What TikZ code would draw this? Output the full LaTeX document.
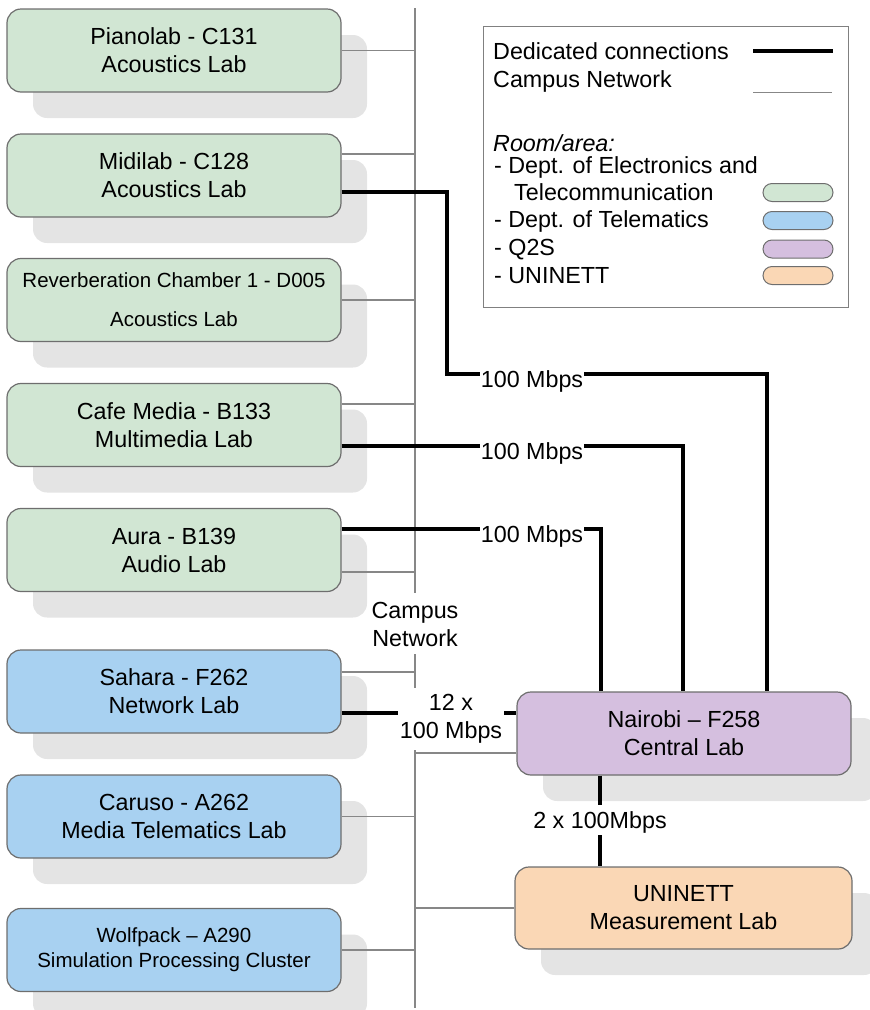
\documentclass[tikz,border=0pt]{standalone}
\usepackage{fontspec}
\setmainfont{Liberation Sans}
\usetikzlibrary{shadows}
\definecolor{eltel}{HTML}{D1E6D3}
\definecolor{telem}{HTML}{A8D1F1}
\definecolor{qtwos}{HTML}{D5BFDF}
\definecolor{uninettc}{HTML}{FAD7B5}
\definecolor{shadowgray}{HTML}{E4E4E4}
\definecolor{boxline}{HTML}{6E6E6E}
\definecolor{campus}{HTML}{878787}
\definecolor{legframe}{HTML}{808080}
\begin{document}
\begin{tikzpicture}[x=1pt,y=-1pt,
  labbox/.style={draw=boxline, line width=1.2pt, rounded corners=14pt,
    minimum width=334pt, minimum height=83pt, align=center, inner sep=0pt,
    font=\fontsize{23.3}{28}\selectfont,
    general shadow={fill=shadowgray, shadow xshift=26pt, shadow yshift=-26pt}},
  eltelbox/.style={labbox, fill=eltel},
  telembox/.style={labbox, fill=telem},
  qbox/.style={labbox, fill=qtwos},
  ubox/.style={labbox, fill=uninettc},
  campusline/.style={draw=campus, line width=1.5pt},
  dedicated/.style={draw=black, line width=3.2pt},
  rate/.style={font=\fontsize{23.3}{28}\selectfont, inner sep=1pt, align=center},
  legtext/.style={font=\fontsize{23.3}{28}\selectfont, inner sep=0pt, anchor=base west},
  pill/.style={draw=boxline, line width=1pt, minimum width=70pt, minimum height=18pt,
    rounded corners=9pt, inner sep=0pt},
]
\useasboundingbox (0,0) rectangle (870,1010);

% lab boxes
\node[eltelbox] (pianolab) at (174,50.5) {Pianolab - C131\\Acoustics Lab};
\node[eltelbox] (midilab) at (174,175.5) {Midilab - C128\\Acoustics Lab};
\node[eltelbox, font=\fontsize{20.5}{39}\selectfont] (reverb) at (174,300) {Reverberation Chamber 1 - D005\\Acoustics Lab};
\node[eltelbox] (cafe) at (174,425) {Cafe Media - B133\\Multimedia Lab};
\node[eltelbox] (aura) at (174,550) {Aura - B139\\Audio Lab};
\node[telembox] (sahara) at (174,691.5) {Sahara - F262\\Network Lab};
\node[telembox] (caruso) at (174,816.5) {Caruso - A262\\Media Telematics Lab};
\node[telembox, font=\fontsize{20.5}{25}\selectfont] (wolfpack) at (174,950) {Wolfpack – A290\\Simulation Processing Cluster};
\node[qbox] (nairobi) at (684,733.5) {Nairobi – F258\\Central Lab};
\node[ubox, minimum width=337pt, minimum height=82pt] (uninett) at (683.5,908) {UNINETT\\Measurement Lab};

% campus network bus
\coordinate (bustop) at (415,8);
\coordinate (busA) at (415,593);
\coordinate (busB) at (415,654);
\coordinate (busC) at (415,688);
\coordinate (busD) at (415,750);
\coordinate (busbot) at (415,1008);
\node[rate] (campuslbl) at (415,624) {Campus\\Network};
\draw[campusline] (bustop) -- (busA);
\draw[campusline] (busB) -- (busC);
\draw[campusline] (busD) -- (busbot);

\draw[campusline] (pianolab.east) -- (pianolab.east -| bustop);
\draw[campusline] ([yshift=21.5pt]midilab.east) coordinate (cm) -- (cm -| bustop);
\draw[campusline] (reverb.east) -- (reverb.east -| bustop);
\draw[campusline] ([yshift=21pt]cafe.east) coordinate (cc) -- (cc -| bustop);
\draw[campusline] ([yshift=-22pt]aura.east) coordinate (ca) -- (ca -| bustop);
\draw[campusline] ([yshift=19.5pt]sahara.east) coordinate (cs) -- (cs -| bustop);
\draw[campusline] (caruso.east) -- (caruso.east -| bustop);
\draw[campusline] (wolfpack.east) -- (wolfpack.east -| bustop);
\draw[campusline] ([yshift=-19.5pt]nairobi.west) coordinate (cn) -- (cn -| bustop);
\draw[campusline] (uninett.west) -- (uninett.west -| bustop);

% dedicated connections
\node[rate, anchor=base] (r1) at (532,387) {100 Mbps};
\node[rate, anchor=base] (r2) at (532,459) {100 Mbps};
\node[rate, anchor=base] (r3) at (532,542) {100 Mbps};
\node[rate, inner sep=2pt] (r4) at (451,719) {12 x\\100 Mbps};
\node[rate] (r5) at (600,822) {2 x 100Mbps};

\coordinate (m1) at (447,374);
\coordinate (v3) at (767,374);
\draw[dedicated] ([yshift=-16.5pt]midilab.east) -| (m1) -- (m1 -| r1.west);
\draw[dedicated] (r1.east |- m1) -- (v3) -- (v3 |- nairobi.north);

\coordinate (v2) at (683,446);
\draw[dedicated] ([yshift=-21pt]cafe.east) -- (r2.west |- v2);
\draw[dedicated] (r2.east |- v2) -- (v2) -- (v2 |- nairobi.north);

\coordinate (v1) at (601,529);
\draw[dedicated] ([yshift=21pt]aura.east) -- (r3.west |- v1);
\draw[dedicated] (r3.east |- v1) -- (v1) -- (v1 |- nairobi.north);

\coordinate (sa) at ([yshift=-21.5pt]sahara.east);
\draw[dedicated] (sa) -- (sa -| r4.west);
\draw[dedicated] (r4.east |- sa) -- (sa -| nairobi.west);

\coordinate (nu1) at (600,805);
\coordinate (nu2) at (600,835);
\draw[dedicated] (nairobi.south -| nu1) -- (nu1);
\draw[dedicated] (nu2) -- (uninett.north -| nu2);

% legend
\node[draw=legframe, line width=1.4pt, minimum width=365pt, minimum height=281pt,
  anchor=north west, inner sep=0pt] (legend) at (483,26) {};
\node[legtext] (lg1) at (493,59) {Dedicated connections};
\node[legtext] (lg2) at (493,87) {Campus Network};
\node[legtext, font=\fontsize{23.3}{28}\selectfont\itshape] (lg3) at (493,151) {Room/area:};
\node[legtext] (lg4) at (494,173) {- Dept. of Electronics and};
\node[legtext] (lg5) at (514,200) {Telecommunication};
\node[legtext] (lg6) at (494,227) {- Dept. of Telematics};
\node[legtext] (lg7) at (494,255) {- Q2S};
\node[legtext] (lg8) at (494,283) {- UNINETT};
\coordinate (ld1) at (753,51);
\coordinate (ld2) at (833,51);
\coordinate (lc1) at (753,92);
\coordinate (lc2) at (832,92);
\draw[dedicated] (ld1) -- (ld2);
\draw[campusline, line width=1pt] (lc1) -- (lc2);
\node[pill, fill=eltel] (pg) at (798,192.5) {};
\node[pill, fill=telem] (pb) at (798,220.5) {};
\node[pill, fill=qtwos] (pp) at (798,249) {};
\node[pill, fill=uninettc] (po) at (798,275.5) {};
\end{tikzpicture}
\end{document}
